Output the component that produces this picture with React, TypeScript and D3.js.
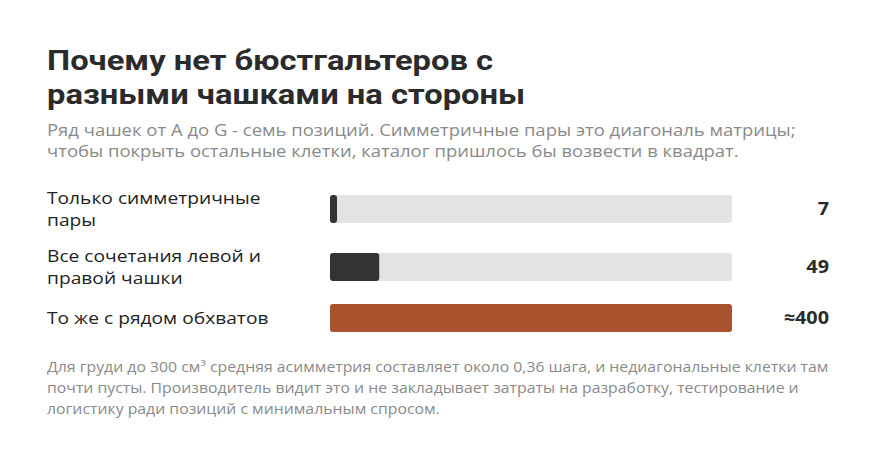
import React from "react";
import * as d3 from "d3";

const categories = ["Только симметричные|пары", "Все сочетания левой и|правой чашки", "То же с рядом обхватов"];
const values = [7, 49, 400];
const valueLabels = ["7", "49", "≈400"];
const titleLines = ["Почему нет бюстгальтеров с", "разными чашками на стороны"];
const subtitleLines = [
  "Ряд чашек от A до G - семь позиций. Симметричные пары это диагональ матрицы;",
  "чтобы покрыть остальные клетки, каталог пришлось бы возвести в квадрат.",
];
const footLines = [
  "Для груди до 300 см³ средняя асимметрия составляет около 0,36 шага, и недиагональные клетки там",
  "почти пусты. Производитель видит это и не закладывает затраты на разработку, тестирование и",
  "логистику ради позиций с минимальным спросом.",
];

const W = 877;
const H = 453;
const FONT = "'Open Sans', 'Noto Sans', sans-serif";

export default function App() {
  const x = d3.scaleLinear().domain([0, 400]).range([330, 732]);
  const rowCenters = [209, 267, 318];
  const barH = 28;
  const colors = ["#333333", "#333333", "#a8522e"];
  return (
    <svg width={W} height={H} style={{ position: "absolute", left: 0, top: 0, background: "#fff" }} fontFamily={FONT}>
      <rect width={W} height={H} fill="#fff" />
      <g transform="translate(47,0) scale(1.148,1)">
        {titleLines.map((t, i) => (
          <text key={i} x={0} y={70 + i * 34} fontSize={28.5} fontWeight={700} fill="#2b2b2b" fontFamily="Roboto, sans-serif">
            {t}
          </text>
        ))}
      </g>
      <g transform="translate(47,0) scale(1.12,1)">
        {subtitleLines.map((t, i) => (
          <text key={i} x={0} y={136 + i * 21} fontSize={16.5} fill="#8a8a8a">
            {t}
          </text>
        ))}
      </g>
      {categories.map((c, i) => {
        const lines = c.split("|");
        const cy = rowCenters[i];
        const lh = 22;
        const y0 = cy - ((lines.length - 1) * lh) / 2 + 6;
        return (
          <g key={i}>
            <g transform="translate(47,0) scale(1.13,1)">
              {lines.map((l, j) => (
                <text key={j} x={0} y={y0 + j * lh} fontSize={17} fill="#222">
                  {l}
                </text>
              ))}
            </g>
            <rect x={x(0)} y={cy - barH / 2} width={x(400) - x(0)} height={barH} rx={3} fill="#e3e3e3" />
            <rect x={x(0)} y={cy - barH / 2} width={Math.max(x(values[i]) - x(0), 6)} height={barH} rx={3} fill={colors[i]} />
            <g transform="translate(829,0) scale(1.1,1)">
              <text x={0} y={cy + 6.5} textAnchor="end" fontSize={18} fontWeight={700} fill="#2b2b2b">
                {valueLabels[i]}
              </text>
            </g>
          </g>
        );
      })}
      <g transform="translate(47,0) scale(1.13,1)">
        {footLines.map((t, i) => (
          <text key={i} x={0} y={372 + i * 21} fontSize={14} fill="#8a8a8a">
            {t}
          </text>
        ))}
      </g>
    </svg>
  );
}
